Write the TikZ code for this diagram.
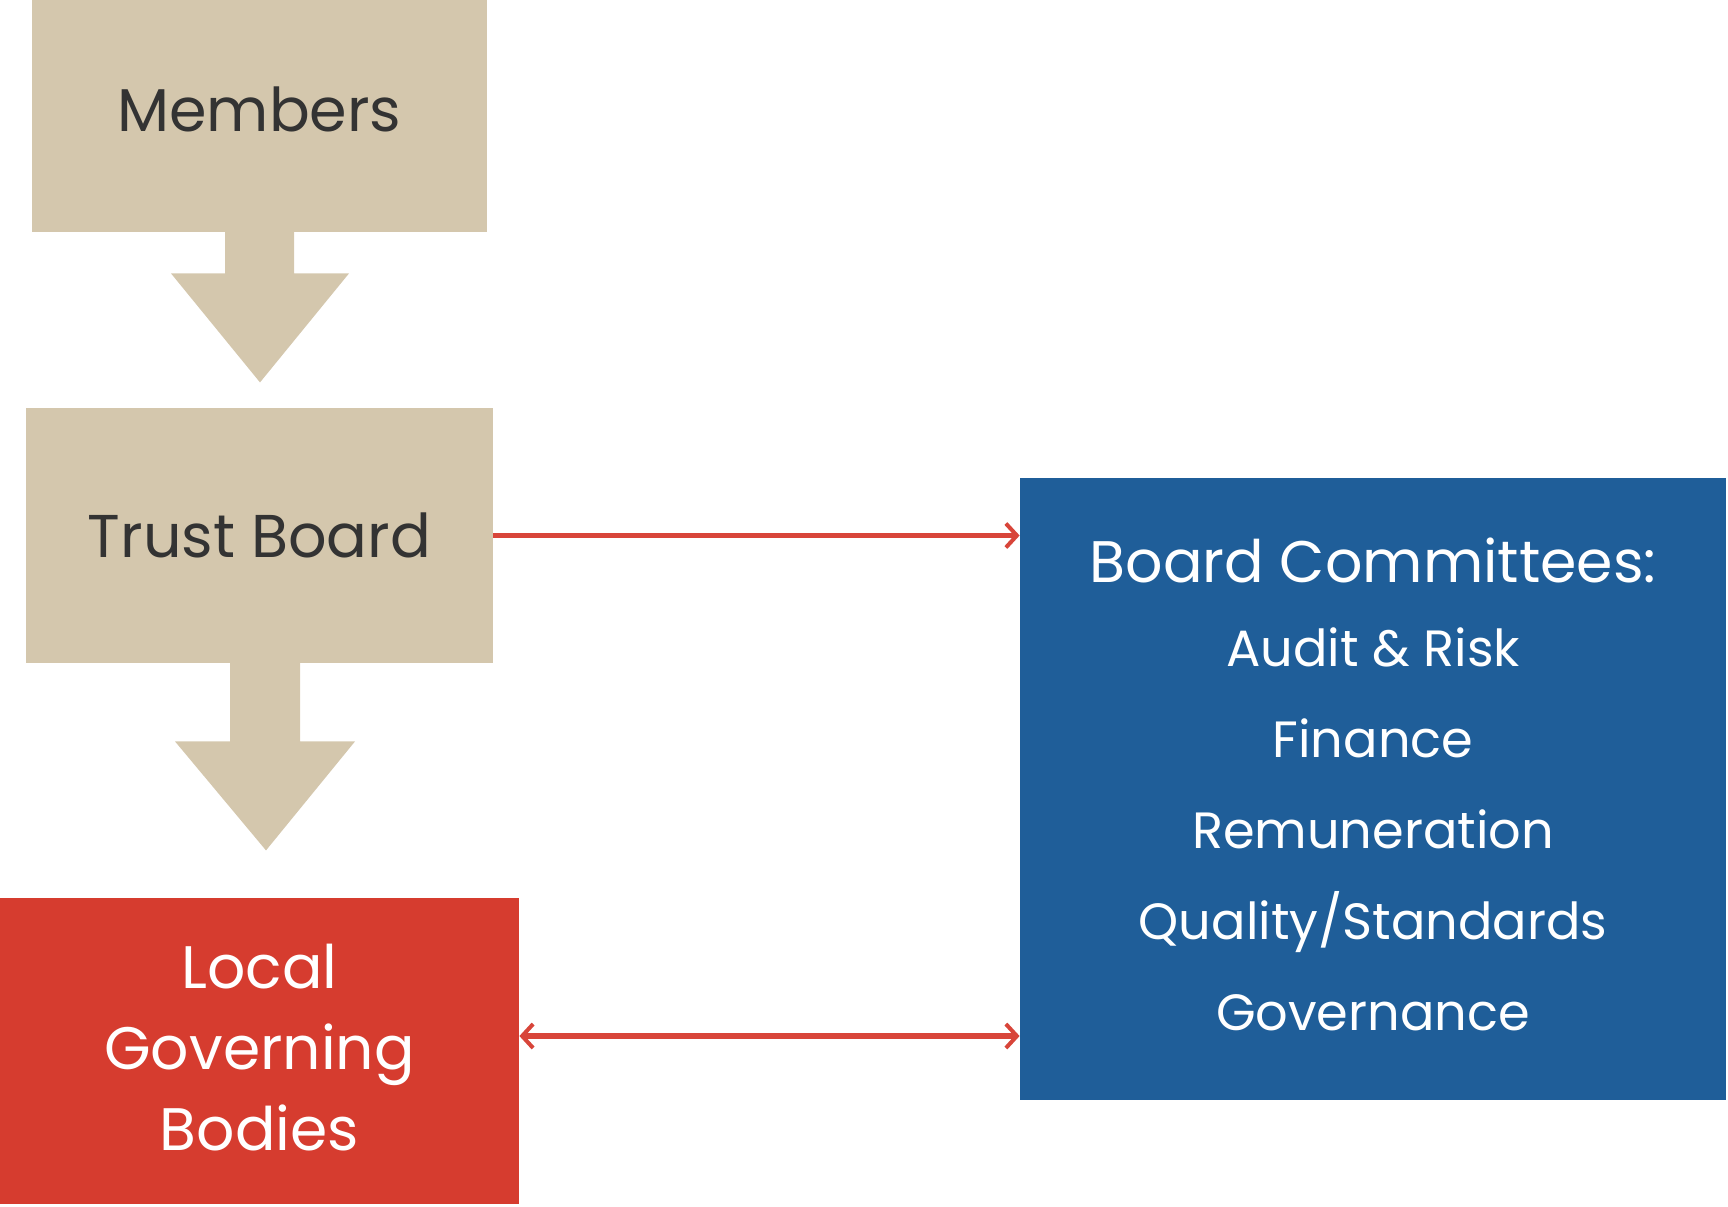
\documentclass[tikz,border=0pt]{standalone}
\usepackage{fontspec}
\setmainfont{Poppins}
\usetikzlibrary{arrows.meta,calc}
\definecolor{tan}{HTML}{D4C7AD}
\definecolor{dgray}{HTML}{333333}
\definecolor{lgbred}{HTML}{D63C2F}
\definecolor{cblue}{HTML}{1F5E99}
\definecolor{lred}{HTML}{D8453A}
\begin{document}
\begin{tikzpicture}[x=0.5pt,y=-0.5pt,
  tanbox/.style={rectangle,fill=tan,text=dgray,inner sep=0pt,font=\fontsize{30.2}{37}\selectfont},
  colbox/.style={rectangle,inner sep=0pt,text=white,align=center},
  blockarrow/.style={fill=tan},
  link/.style={draw=lred,line width=2.6pt},
  barbtip/.tip={Straight Barb[length=5.5pt,width=12pt,line width=2pt]}]
\useasboundingbox (0,0) rectangle (1728,1206);
\node[tanbox,minimum width=227.5pt,minimum height=116pt,text depth=6.6pt] (m) at (259.5,116) {Members};
\node[tanbox,minimum width=233.5pt,minimum height=127.5pt] (t) at (259.5,535.5) {Trust Board};
\node[colbox,fill=lgbred,minimum width=259.5pt,minimum height=153pt] (l) at (259.5,1051) {};
\node[colbox,font=\fontsize{30}{40.5}\selectfont] (lt) at ($(l.center)+(0,-3.3)$) {Local\\Governing\\Bodies};
\node[colbox,fill=cblue,minimum width=353pt,minimum height=311pt] (b) at (1373,789) {};
\node[colbox,font=\fontsize{25.5}{45.4}\selectfont] (bt) at ($(b.center)+(0,-4.5)$)
  {{\fontsize{29.3}{45.4}\selectfont Board Committees:}\\[-3.4pt]Audit \& Risk\\Finance\\Remuneration\\Quality/Standards\\Governance};
% block arrows
\fill[blockarrow] ($(m.south)+(-34.5,-1)$) -- ($(m.south)+(34.5,-1)$) -- ($(m.south)+(34.5,41)$)
  -- ($(m.south)+(89.5,41)$) -- ($(m.south)+(0.5,150)$) -- ($(m.south)+(-88.5,41)$) -- ($(m.south)+(-34.5,41)$) -- cycle;
\fill[blockarrow] ($(t.south)+(-29.5,-1)$) -- ($(t.south)+(40.5,-1)$) -- ($(t.south)+(40.5,78)$)
  -- ($(t.south)+(95.5,78)$) -- ($(t.south)+(6.5,187)$) -- ($(t.south)+(-84.5,78)$) -- ($(t.south)+(-29.5,78)$) -- cycle;
% connectors
\draw[link,-barbtip] (t.east) -- (t.east -| b.west);
\coordinate (la) at ($(l.east)+(0,-15)$);
\draw[link,barbtip-barbtip] (la) -- (la -| b.west);
\end{tikzpicture}
\end{document}
